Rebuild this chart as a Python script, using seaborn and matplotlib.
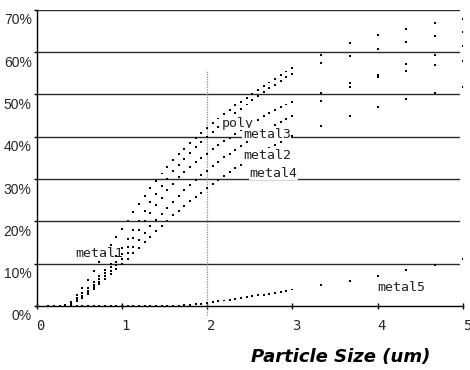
import matplotlib
matplotlib.use("Agg")
import matplotlib.pyplot as plt
import matplotlib.transforms as mtransforms
import numpy as np
import pandas as pd
import seaborn as sns

# ---------------- data ----------------
particle_size = [0.13, 0.2, 0.27, 0.33, 0.4, 0.47, 0.53, 0.6, 0.67, 0.73,
                 0.8, 0.87, 0.93, 1.0, 1.07, 1.13, 1.2, 1.27, 1.33, 1.4,
                 1.47, 1.53, 1.6, 1.67, 1.73, 1.8, 1.87, 1.93, 2.0, 2.07,
                 2.13, 2.2, 2.27, 2.33, 2.4, 2.47, 2.53, 2.6, 2.67, 2.73,
                 2.8, 2.87, 2.93, 3.0, 3.33, 3.67, 4.0, 4.33, 4.67, 5.0]

metal1 = [0, 0, 0, 0.3, 1.0, 2.6, 4.3, 6.2, 8.3, 10.3,
          12.4, 14.5, 16.4, 18.3, 20.2, 22.1, 24.0, 25.9, 27.8, 29.6,
          31.3, 32.9, 34.4, 35.8, 37.1, 38.4, 39.7, 40.9, 42.1, 43.2,
          44.3, 45.4, 46.4, 47.4, 48.3, 49.2, 50.1, 51.0, 51.9, 52.8,
          53.6, 54.5, 55.4, 56.3, 59.3, 62.1, 64.1, 65.4, 66.8, 67.8]

poly = [0, 0, 0, 0.2, 0.8, 1.8, 3.0, 4.3, 5.7, 7.1,
        8.6, 10.0, 11.7, 13.6, 15.8, 18.0, 20.2, 22.4, 24.5, 26.5,
        28.4, 30.1, 31.8, 33.3, 34.7, 36.1, 37.5, 38.8, 40.0, 41.2,
        42.3, 43.4, 44.5, 45.5, 46.6, 47.6, 48.6, 49.6, 50.5, 51.4,
        52.2, 53.1, 54.0, 54.9, 57.4, 59.1, 60.8, 62.3, 63.7, 64.8]

metal3 = [0, 0, 0, 0.1, 0.6, 1.4, 2.4, 3.6, 4.9, 6.3,
          7.7, 9.1, 10.5, 12.2, 14.0, 16.0, 18.0, 20.0, 21.9, 23.8,
          25.6, 27.3, 28.9, 30.4, 31.7, 32.9, 34.0, 35.0, 36.0, 37.0,
          38.0, 38.9, 39.8, 40.7, 41.6, 42.4, 43.2, 44.0, 44.8, 45.5,
          46.2, 46.9, 47.6, 48.3, 50.4, 52.6, 54.6, 57.2, 59.3, 61.5]

metal2 = [0, 0, 0, 0.1, 0.5, 1.2, 2.1, 3.2, 4.4, 5.7,
          7.0, 8.3, 9.6, 11.0, 12.5, 14.0, 15.6, 17.2, 18.8, 20.3,
          21.8, 23.2, 24.6, 26.0, 27.3, 28.6, 29.8, 30.9, 32.0, 33.1,
          34.1, 35.1, 36.0, 36.9, 37.8, 38.7, 39.5, 40.3, 41.1, 41.9,
          42.7, 43.4, 44.2, 45.0, 48.5, 51.7, 54.2, 55.6, 57.0, 57.9]

metal4 = [0, 0, 0, 0.1, 0.5, 1.1, 1.9, 2.9, 4.0, 5.2,
          6.4, 7.6, 8.8, 10.0, 11.2, 12.5, 13.8, 15.1, 16.4, 17.7,
          19.0, 20.2, 21.4, 22.5, 23.6, 24.7, 25.8, 26.8, 27.8, 28.8,
          29.8, 30.7, 31.6, 32.5, 33.4, 34.2, 35.0, 35.8, 36.6, 37.3,
          38.0, 38.7, 39.4, 40.1, 42.5, 44.9, 47.1, 48.9, 50.4, 51.7]

metal5 = [0, 0, 0, 0, 0, 0, 0, 0, 0, 0,
          0, 0, 0, 0, 0, 0, 0, 0, 0, 0,
          0, 0, 0, 0, 0.2, 0.3, 0.4, 0.5, 0.7, 0.9,
          1.1, 1.3, 1.5, 1.7, 1.9, 2.1, 2.3, 2.5, 2.7, 2.9,
          3.1, 3.3, 3.6, 3.9, 4.9, 6.0, 7.1, 8.5, 9.8, 11.1]

series_names = ["metal1", "poly", "metal3", "metal2", "metal4", "metal5"]
series_values = [metal1, poly, metal3, metal2, metal4, metal5]

# label positions (data coords) of the series names
label_x = [0.73, 2.36, 2.70, 2.70, 2.78, 4.28]
label_y = [12.5, 43.1, 40.5, 35.6, 31.3, 4.4]

y_ticks = [0, 10, 20, 30, 40, 50, 60, 70]
y_tick_labels = ["0%", "10%", "20%", "30%", "40%", "50%", "60%", "70%"]
x_ticks = [0, 1, 2, 3, 4, 5]
x_tick_labels = ["0", "1", "2", "3", "4", "5"]
x_label = "Particle Size (um)"

ref_x = 2.0
ref_y_span = (-2.2, 55.5)

# ---------------- table ----------------
frames = []
for name, vals in zip(series_names, series_values):
    frames.append(pd.DataFrame({"size": particle_size, "pct": vals, "series": name}))
df = pd.concat(frames, ignore_index=True)

# ---------------- figure ----------------
sns.set_theme(style="white")
plt.rcParams["font.family"] = ["DejaVu Sans"]

fig = plt.figure(figsize=(4.7, 3.7), dpi=100)
ax = fig.add_axes([36.5 / 470, 64 / 370, (463 - 36.5) / 470, (306 - 9.7) / 370])

for yv in y_ticks[1:]:
    ax.axhline(yv, xmin=0, xmax=0.991, color="#2a2a2a", lw=1.0, zorder=1)

ax.plot([ref_x, ref_x], list(ref_y_span), ls=(0, (1, 1)), color="#888888",
        lw=0.9, clip_on=False, zorder=1.5)

sns.scatterplot(data=df, x="size", y="pct", hue="series",
                palette={n: "black" for n in series_names},
                marker="s", s=2.0, linewidth=0, legend=False, ax=ax, zorder=3)

ax.set_xlim(0, 5)
ax.set_ylim(0, 70)
ax.set_xlabel("")
ax.set_ylabel("")

ax.set_xticks(x_ticks)
ax.set_xticklabels(x_tick_labels, fontsize=10, family=["DejaVu Sans Mono"])
ax.set_yticks(y_ticks)
ax.set_yticklabels(y_tick_labels, fontsize=10,
                   family=["Liberation Sans Narrow", "Liberation Sans"])

ax.tick_params(axis="x", direction="inout", length=5, width=1, color="black",
               pad=7, bottom=True)
ax.tick_params(axis="y", direction="out", length=2, width=1, color="black",
               pad=1.5, left=True)

# shift tick labels like the reference
xoff = mtransforms.ScaledTranslation(4 / 100, 0, fig.dpi_scale_trans)
for lab in ax.get_xticklabels():
    lab.set_transform(lab.get_transform() + xoff)
yoff = mtransforms.ScaledTranslation(0, -9 / 100, fig.dpi_scale_trans)
for lab in ax.get_yticklabels():
    lab.set_transform(lab.get_transform() + yoff)

for side in ["top", "right"]:
    ax.spines[side].set_visible(False)
for side in ["left", "bottom"]:
    ax.spines[side].set_color("black")
    ax.spines[side].set_linewidth(1.0)

for name, lx, ly in zip(series_names, label_x, label_y):
    kw = dict(fontsize=9.5, family=["DejaVu Sans Mono"], color="#222222",
              ha="center", va="center")
    if name == "metal1":
        ax.text(lx, ly, name, zorder=2, **kw)
    else:
        ax.text(lx, ly, name, zorder=4,
                bbox=dict(fc="white", ec="none", pad=0.3), **kw)

fig.text(341 / 470, 1 - 357 / 370, x_label, fontsize=13, fontweight="bold",
         fontstyle="italic", ha="center", va="center", color="black")

fig.savefig("out.png", dpi=100, facecolor="white")
